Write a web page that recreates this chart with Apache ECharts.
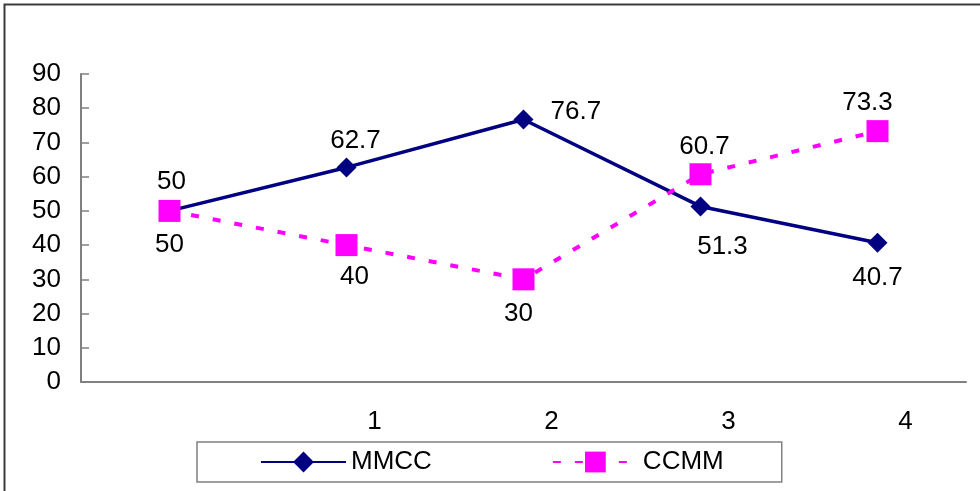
<!DOCTYPE html>
<html>
<head>
<meta charset="utf-8">
<script src="https://cdn.jsdelivr.net/npm/echarts@6/dist/echarts.min.js"></script>
<style>
html,body{margin:0;padding:0;background:#fff;}
#chart{width:980px;height:491px;}
</style>
</head>
<body>
<div id="chart"></div>
<script>
const categories = ['', '1', '2', '3', '4'];
const seriesNames = ['MMCC', 'CCMM'];
const mmccValues = [50, 62.7, 76.7, 51.3, 40.7];
const ccmmValues = [50, 40, 30, 60.7, 73.3];
const yTicks = [0, 10, 20, 30, 40, 50, 60, 70, 80, 90];

// label placement (style only)
const mmccLabelPos = [['top', [2, -1]], ['top', [9, 1]], ['right', [12, -8]], ['bottom', [22, 12]], ['bottom', [0, 7]]];
const ccmmLabelPos = [['bottom', [0, 5]], ['bottom', [8, 3]], ['bottom', [-5, 5]], ['top', [4, 2]], ['top', [-10, 1]]];

const FONT = '"Liberation Sans", Arial, sans-serif';
const FS = 26;

function buildData(values, pos) {
  return values.map((v, i) => ({
    value: v,
    label: { position: pos[i][0], offset: pos[i][1] }
  }));
}

const chart = echarts.init(document.getElementById('chart'), null, { renderer: 'canvas' });
chart.setOption({
  animation: false,
  backgroundColor: '#ffffff',
  textStyle: { fontFamily: FONT },
  graphic: [{
    type: 'rect',
    shape: { x: 4.5, y: 4.5, width: 1200, height: 1200 },
    style: { fill: 'none', stroke: '#3a3a3a', lineWidth: 2 },
    silent: true, z: 100
  }],
  grid: { left: 81, right: 14, top: 74, bottom: 109, containLabel: false },
  xAxis: {
    type: 'category',
    data: categories,
    boundaryGap: true,
    axisLine: { lineStyle: { color: '#808080', width: 2 } },
    axisTick: { inside: true, length: 9, lineStyle: { color: '#808080', width: 1.5 } },
    axisLabel: {
      color: '#000', fontSize: FS, fontFamily: FONT, margin: 27,
      padding: [0, 0, 0, 56], interval: 0
    },
    splitLine: { show: false }
  },
  yAxis: {
    type: 'value',
    min: yTicks[0],
    max: yTicks[yTicks.length - 1],
    interval: yTicks[1] - yTicks[0],
    axisLine: { show: true, lineStyle: { color: '#808080', width: 2 } },
    axisTick: { show: true, inside: true, length: 8, lineStyle: { color: '#808080', width: 1.5 } },
    axisLabel: { color: '#000', fontSize: FS, fontFamily: FONT, margin: 20 },
    splitLine: { show: false }
  },
  legend: {
    left: 197, top: 442,
    padding: [7, 58, 7, 63],
    itemGap: 120,
    itemWidth: 85, itemHeight: 26,
    borderColor: '#808080', borderWidth: 1.5,
    textStyle: { color: '#000', fontSize: FS, fontFamily: FONT },
    data: seriesNames
  },
  series: [
    {
      name: seriesNames[0],
      type: 'line',
      data: buildData(mmccValues, mmccLabelPos),
      symbol: 'diamond',
      symbolSize: 20,
      color: '#000080',
      lineStyle: { color: '#000080', width: 3.5 },
      itemStyle: { color: '#000080' },
      label: { show: true, color: '#000', fontSize: FS, fontFamily: FONT },
      z: 2
    },
    {
      name: seriesNames[1],
      type: 'line',
      data: buildData(ccmmValues, ccmmLabelPos),
      symbol: 'rect',
      symbolSize: 22,
      color: '#ff00ff',
      lineStyle: { color: '#ff00ff', width: 4, type: [8, 14] },
      itemStyle: { color: '#ff00ff' },
      label: { show: true, color: '#000', fontSize: FS, fontFamily: FONT },
      z: 3
    }
  ]
});
</script>
</body>
</html>
